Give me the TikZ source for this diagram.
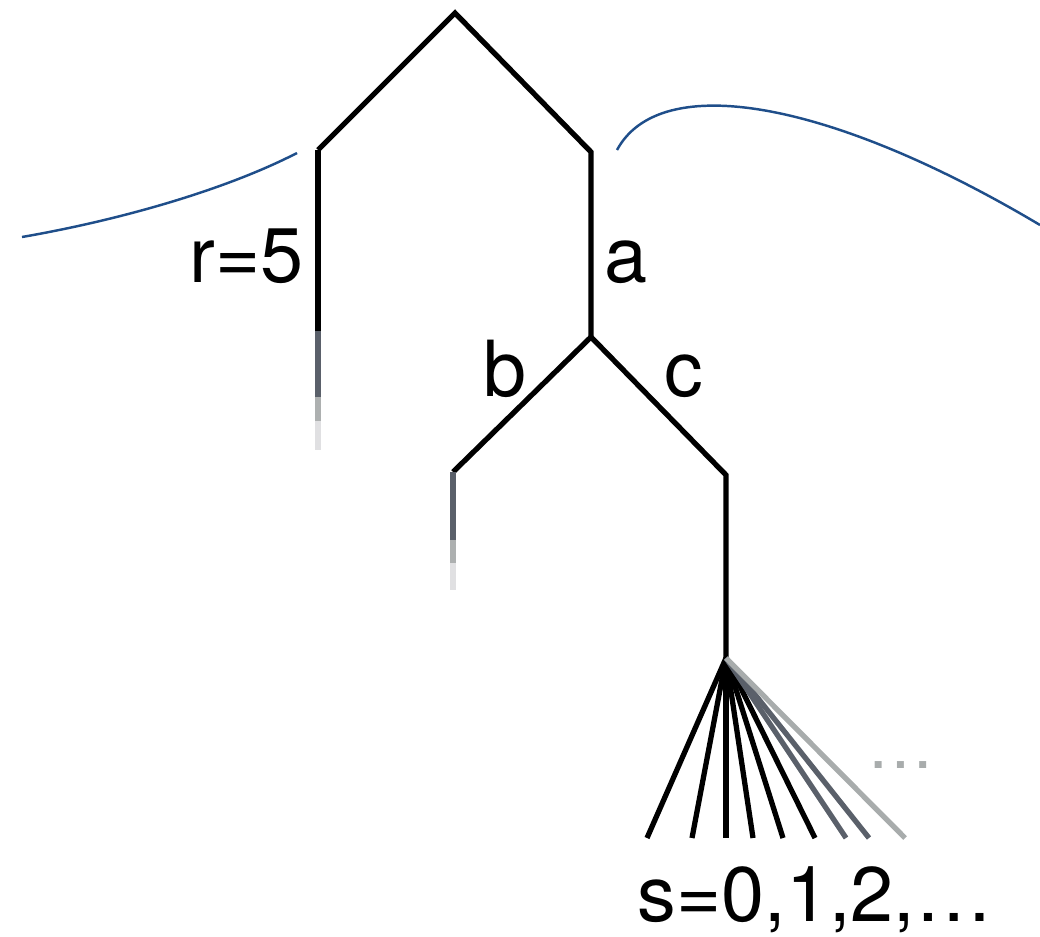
\documentclass[tikz,border=0pt]{standalone}
\usepackage{fontspec}
\setmainfont{TeX Gyre Heros}
\usepackage{tikz}
\usetikzlibrary{positioning, calc}
\definecolor{treeblue}{HTML}{1F4E8A}
\definecolor{fadedark}{HTML}{5A606A}
\definecolor{fademid}{HTML}{ADB0B0}
\definecolor{fadelight}{HTML}{E0E0E2}
\definecolor{dotgray}{HTML}{A8ACAC}

\begin{document}
\begin{tikzpicture}[x=0.01cm, y=-0.01cm,
    edge/.style={line width=1.5pt, line cap=butt, line join=miter},
    curve/.style={line width=0.7pt, treeblue},
    lbl/.style={font=\fontsize{22}{24}\selectfont, inner sep=0pt, anchor=base},
]
    \useasboundingbox (0,0) rectangle (1040,936);

    % tree points
    \coordinate (root) at (455,13);
    \coordinate (left) at (318,150);
    \coordinate (right) at (591,152);
    \coordinate (split) at (591,337);
    \coordinate (bend) at (453,472);
    \coordinate (cend) at (726,475);
    \coordinate (fan) at (726,658);

    \draw[edge] (left) -- (root) -- (right) -- (split);
    \draw[edge] (bend) -- (split) -- (cend) -- (fan);

    % fading stubs
    \draw[edge] (left) -- (318,331);
    \draw[edge, fadedark] (318,331) -- (318,397);
    \draw[edge, fademid] (318,397) -- (318,421);
    \draw[edge, fadelight] (318,421) -- (318,450);
    \draw[edge, fadedark] (bend) -- (453,540);
    \draw[edge, fademid] (453,540) -- (453,563);
    \draw[edge, fadelight] (453,563) -- (453,590);

    % fan of children
    \foreach \xx/\cc in {647/black, 692/black, 726/black, 753/black, 783/black, 815/black, 846/fadedark, 869/fadedark, 905/dotgray}
        \draw[edge, \cc] (fan) -- (\xx,838);
    \node[lbl, dotgray, font=\fontsize{19}{20}\selectfont] (more) at (901,768) {…};

    % blue curves
    \draw[curve] (22,237) .. controls (120,220) and (225,190) .. (297,153);
    \draw[curve] (617,150) .. controls (660,70) and (830,100) .. (1040,225);

    % labels
    \node[lbl, anchor=base east] (rlbl) at (304,282) {r=5};
    \node[lbl, anchor=base west] (albl) at (604,282) {a};
    \node[lbl] (blbl) at (505,396) {b};
    \node[lbl] (clbl) at (684,396) {c};
    \node[lbl] (slbl) at (815,921) {s=0,1,2,…};
\end{tikzpicture}
\end{document}
